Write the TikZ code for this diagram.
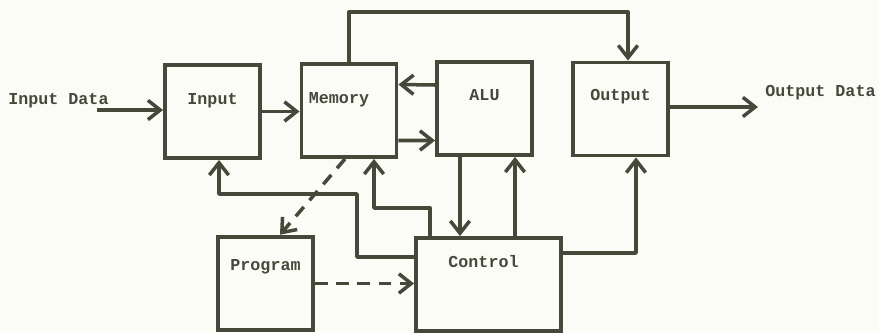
\documentclass[tikz,border=0pt]{standalone}
\usepackage{fontspec}
\setmonofont{Liberation Mono}
\usetikzlibrary{arrows.meta}

\definecolor{ink}{RGB}{72,72,58}
\definecolor{paper}{RGB}{252,252,247}

\tikzset{
  unit/.style={draw=ink, line width=2.2pt, minimum width=1.9cm, minimum height=1.86cm, inner sep=0pt},
  txt/.style={text=ink, font=\ttfamily\bfseries\fontsize{9.5}{11}\selectfont},
  inlbl/.style={txt, below=#1},
  inlbl/.default=0.48cm,
  wire/.style={draw=ink, line width=2pt, line join=round, -{Straight Barb[length=7pt,width=11pt]}},
  flow/.style={wire, dash pattern=on 7pt off 5pt}
}

\begin{document}
\begin{tikzpicture}

\fill[paper] (0,0) rectangle (17.58,6.66);

\node[unit, label={[inlbl]north:Input}] (in) at (4.25,4.43) {};
\node[unit, label={[inlbl,xshift=-0.2cm]north:Memory}] (mem) at (6.98,4.45) {};
\node[unit, label={[inlbl=0.46cm]north:ALU}] (alu) at (9.69,4.49) {};
\node[unit, label={[inlbl=0.46cm]north:Output}] (out) at (12.41,4.48) {};
\node[unit, line width=2.6pt, label={[inlbl=0.38cm]north:Program}] (prg) at (5.31,0.99) {};
\node[unit, minimum width=2.9cm, label={[inlbl=0.26cm,xshift=-0.1cm]north:Control}] (ctl) at (9.77,0.97) {};

\node[txt, anchor=west, inner sep=0pt] (idata) at (0.16,4.64) {Input Data};
\node[txt, anchor=west, inner sep=0pt] (odata) at (15.30,4.80) {Output Data};

\coordinate (isrc) at (1.94,4.46);
\coordinate (oend) at (15.16,4.52);
\coordinate (a1) at ([xshift=-0.49cm]alu.south);
\coordinate (a2) at ([xshift=0.61cm]alu.south);
\coordinate (bend) at (7.14,2.78);

\draw[wire] (isrc) -- (isrc -| in.west);
\draw[wire] (in.east) -- (in.east -| mem.west);
\draw[wire] ([yshift=0.47cm]alu.west) -- ([yshift=0.52cm]mem.east);
\draw[wire] ([yshift=-0.6cm]mem.east) -- ([yshift=-0.64cm]alu.west);
\draw[wire] (mem.north) -- ++(0,1) -| ([xshift=0.15cm]out.north);
\draw[wire] (out.east |- oend) -- (oend);

\draw[wire] (a1) -- (a1 |- ctl.north);
\draw[wire] (a2 |- ctl.north) -- (a2);
\draw[wire] ([yshift=0.63cm]ctl.east) -| ([xshift=0.31cm]out.south);
\draw[wire] ([xshift=0.32cm]ctl.north west) -- ++(0,0.56) -| ([xshift=0.5cm]mem.south);
\draw[wire] ([yshift=0.55cm]ctl.west) -| (bend) -| ([xshift=0.13cm]in.south);

\draw[flow] ([xshift=-0.08cm]mem.south) -- ([xshift=0.29cm]prg.north);
\draw[flow] (prg.east) -- (prg.east -| ctl.west);

\end{tikzpicture}
\end{document}
